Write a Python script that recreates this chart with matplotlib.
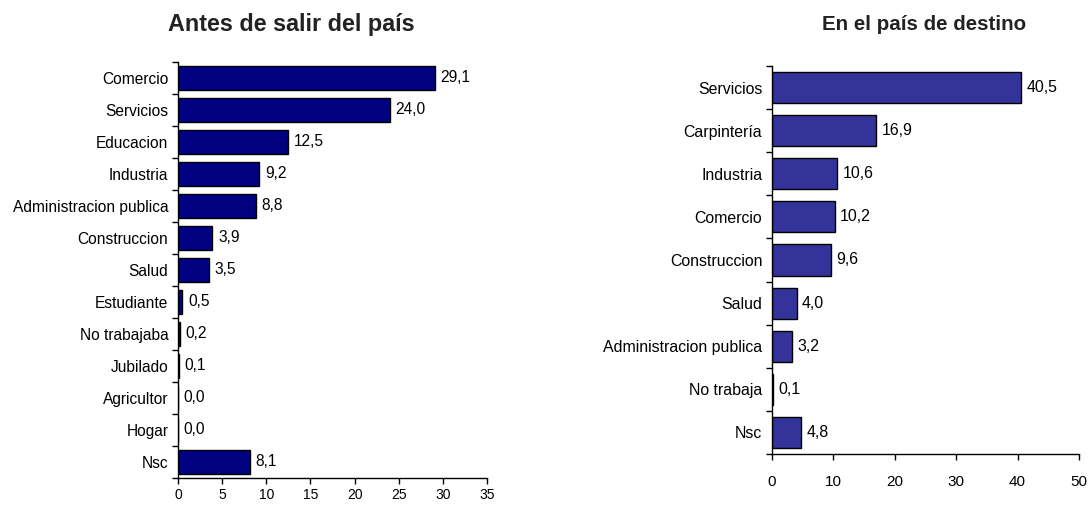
import numpy as np
import matplotlib.pyplot as plt

plt.rcParams['font.family'] = ['Liberation Sans', 'DejaVu Sans']

# data
antes_cats = ['Comercio', 'Servicios', 'Educacion', 'Industria', 'Administracion publica',
              'Construccion', 'Salud', 'Estudiante', 'No trabajaba', 'Jubilado',
              'Agricultor', 'Hogar', 'Nsc']
antes_vals = [29.1, 24.0, 12.5, 9.2, 8.8, 3.9, 3.5, 0.5, 0.2, 0.1, 0.0, 0.0, 8.1]

destino_cats = ['Servicios', 'Carpintería', 'Industria', 'Comercio', 'Construccion',
                'Salud', 'Administracion publica', 'No trabaja', 'Nsc']
destino_vals = [40.5, 16.9, 10.6, 10.2, 9.6, 4.0, 3.2, 0.1, 4.8]

W, H = 1088, 505
fig = plt.figure(figsize=(W / 100, H / 100), dpi=100)


def panel(rect, cats, vals, color, xmax, xstep, title, lab_fs, tick_fs, tick_pad,
          title_x, title_fs):
    l, t, r, b = rect
    ax = fig.add_axes([l / W, 1 - b / H, (r - l) / W, (b - t) / H])
    n = len(cats)
    y = np.arange(n)
    ax.barh(y, vals, height=0.72, color=color, edgecolor='black', linewidth=1.0)
    ax.set_ylim(n - 0.5, -0.5)
    ax.set_xlim(0, xmax)
    ax.set_xticks(np.arange(0, xmax + 0.1, xstep))
    ax.set_yticks(y)
    ax.set_yticklabels(cats, fontsize=lab_fs)
    ax.set_yticks(np.arange(-0.5, n, 1.0), minor=True)
    ax.tick_params(axis='y', which='major', length=0, pad=7)
    ax.tick_params(axis='y', which='minor', length=4, width=1, direction='out')
    ax.tick_params(axis='x', length=4, width=1, labelsize=tick_fs, pad=tick_pad)
    for s in ['top', 'right']:
        ax.spines[s].set_visible(False)
    for s in ['left', 'bottom']:
        ax.spines[s].set_linewidth(1)
    for yi, v in zip(y, vals):
        ax.annotate(('%.1f' % v).replace('.', ','), (v, yi), xytext=(4, 0),
                    textcoords='offset points', va='center', ha='left', fontsize=lab_fs)
    fig.text(title_x / W, 1 - 24 / H, title, ha='center', va='center',
             fontsize=title_fs, fontweight='bold', color='#222222')
    return ax


panel((178, 62, 487, 478), antes_cats, antes_vals, '#000080', 35, 5,
      'Antes de salir del país', 11.2, 10, 3, 291, 16.8)
panel((772, 66, 1079, 454), destino_cats, destino_vals, '#333399', 50, 10,
      'En el país de destino', 11.4, 11, 11, 924, 14.8)

fig.savefig('out.png', dpi=100, facecolor='white')
